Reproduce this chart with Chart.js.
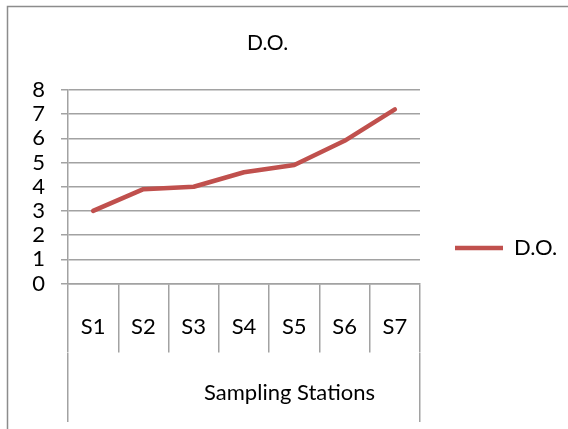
<!DOCTYPE html>
<html>
<head>
<meta charset="utf-8">
<script src="https://cdn.jsdelivr.net/npm/chart.js@4/dist/chart.umd.min.js"></script>
<style>
  html, body { margin: 0; padding: 0; background: #fff; overflow: hidden; }
  /* the chart is a little wider than the window and starts left of it */
  canvas { display: block; margin-left: -32px; }
</style>
</head>
<body>
<canvas id="doChart" width="600" height="429"></canvas>
<script>
// Sampling stations along the x axis, grouped under one outer category.
const stations = ['S1', 'S2', 'S3', 'S4', 'S5', 'S6', 'S7'];
const stationGroup = ['Sampling Stations'];

// Dissolved oxygen measured at each station.
const seriesName = 'D.O.';
const dissolvedOxygen = [3.0, 3.9, 4.0, 4.6, 4.9, 5.9, 7.2];

// Value axis range and step.
const yMin = 0;
const yMax = 8;
const yStep = 1;

const GRID = '#a2a2a2';
const LINE = '#C0504D';
const TEXT = '#000000';

Chart.defaults.font.family = 'Lato, "Open Sans", sans-serif';
Chart.defaults.font.size = 22;

// Thin frame around the whole chart; it runs past the right and bottom edges.
const chartFrame = {
  id: 'chartFrame',
  beforeDraw(chart) {
    const { ctx } = chart;
    ctx.save();
    ctx.strokeStyle = '#8c8c8c';
    ctx.lineWidth = 1.5;
    ctx.strokeRect(39.5, 6.5, chart.width + 40, chart.height + 40);
    ctx.restore();
  }
};

new Chart(document.getElementById('doChart'), {
  type: 'line',
  data: {
    labels: stations,
    datasets: [{
      label: seriesName,
      data: dissolvedOxygen,
      xAxisID: 'x',
      yAxisID: 'y',
      borderColor: LINE,
      backgroundColor: LINE,
      borderWidth: 4.5,
      borderCapStyle: 'round',
      borderJoinStyle: 'round',
      pointRadius: 0,
      pointHoverRadius: 0,
      tension: 0,
      fill: false
    }]
  },
  options: {
    responsive: false,
    animation: false,
    devicePixelRatio: 1,
    events: [],
    layout: { padding: { left: 0, right: 1, top: 0, bottom: 0 } },
    plugins: {
      title: {
        display: true,
        text: seriesName,
        color: TEXT,
        font: { size: 21, weight: 'normal' },
        padding: { top: 31, bottom: 33.8 }
      },
      legend: {
        position: 'right',
        fullSize: false,
        align: 'start',
        maxWidth: 147,
        // empty title used as a spacer so the entry sits lower in the column
        title: { display: true, text: '', font: { size: 12, lineHeight: 1 }, padding: { top: 100, bottom: 0 } },
        labels: {
          usePointStyle: true,
          pointStyle: 'line',
          pointStyleWidth: 48,
          padding: 35,
          color: TEXT,
          font: { size: 22 }
        }
      },
      tooltip: { enabled: false }
    },
    scales: {
      x: {
        type: 'category',
        position: 'bottom',
        offset: true,
        grid: { offset: true, drawOnChartArea: false, color: GRID, lineWidth: 1.5, tickLength: 69 },
        border: { color: GRID, width: 1.5 },
        ticks: { padding: -38.7, color: TEXT, font: { size: 22 }, maxRotation: 0, autoSkip: false },
        afterFit(scale) { scale.height = 69; }
      },
      x2: {
        type: 'category',
        position: 'bottom',
        labels: stationGroup,
        offset: true,
        grid: { offset: true, drawOnChartArea: false, color: GRID, lineWidth: 1.5, tickLength: 69.5 },
        border: { display: false },
        ticks: { padding: -42.2, labelOffset: 45.5, color: TEXT, font: { size: 22 }, maxRotation: 0, autoSkip: false },
        afterFit(scale) { scale.height = 76.5; }
      },
      y: {
        type: 'linear',
        min: yMin,
        max: yMax,
        ticks: { stepSize: yStep, autoSkip: false, padding: 16, color: TEXT, font: { size: 22 } },
        grid: { color: GRID, lineWidth: 1.5, tickLength: 7 },
        border: { color: GRID, width: 1.5 },
        afterFit(scale) { scale.width = 100; }
      }
    }
  },
  plugins: [chartFrame]
});
</script>
</body>
</html>
